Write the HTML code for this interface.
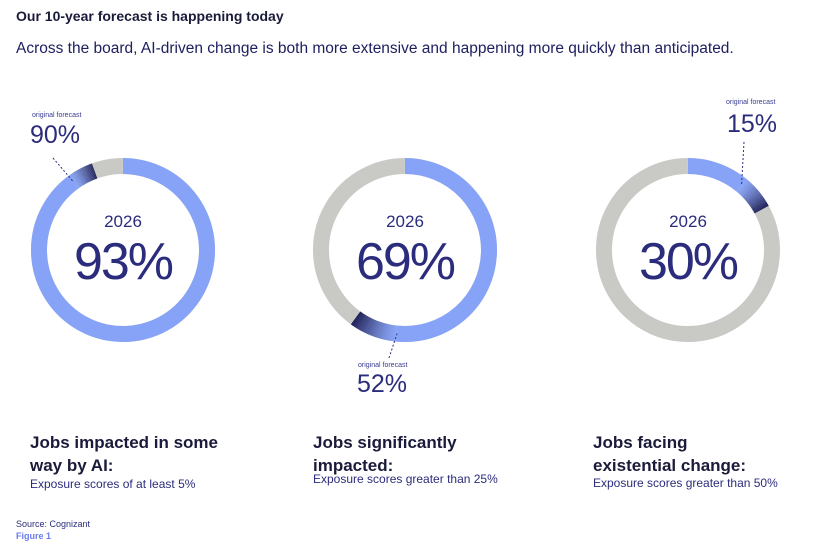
<!DOCTYPE html>
<html><head><meta charset="utf-8"><style>
body{margin:0;width:837px;height:553px;background:#fff;font-family:"Liberation Sans",sans-serif;color:#1f2060;position:relative;overflow:hidden}
.a{position:absolute;white-space:nowrap}
.h{font-size:17px;line-height:23px;color:#1a1a3a;font-weight:bold}
</style></head><body>
<div class="a" style="left:16px;top:8px;font-size:14px;font-weight:bold;color:#1a1a3a">Our 10-year forecast is happening today</div>
<div class="a" style="left:16px;top:40px;font-size:15.5px;color:#1f2060">Across the board, AI-driven change is both more extensive and happening more quickly than anticipated.</div>
<svg id="s" class="a" style="left:0;top:0" width="837" height="553"></svg>
<div class="a" style="left:32px;top:112px;font-size:7px;color:#3a3c90">original forecast</div>
<div class="a" style="left:30px;top:121px;font-size:25px;color:#2b2c7c">90%</div>
<div class="a" style="left:358px;top:362px;font-size:7px;color:#3a3c90">original forecast</div>
<div class="a" style="left:357px;top:370px;font-size:25px;color:#2b2c7c">52%</div>
<div class="a" style="left:726px;top:99px;font-size:7px;color:#3a3c90">original forecast</div>
<div class="a" style="left:727px;top:110px;font-size:25px;color:#2b2c7c">15%</div>
<div class="a h" style="left:30px;top:431px">Jobs impacted in some<br>way by AI:</div>
<div class="a" style="left:30px;top:477px;font-size:12px;color:#2b2c7c">Exposure scores of at least 5%</div>
<div class="a h" style="left:313px;top:431px">Jobs significantly<br>impacted:</div>
<div class="a" style="left:313px;top:472px;font-size:12px;color:#2b2c7c">Exposure scores greater than 25%</div>
<div class="a h" style="left:593px;top:431px">Jobs facing<br>existential change:</div>
<div class="a" style="left:593px;top:476px;font-size:12px;color:#2b2c7c">Exposure scores greater than 50%</div>
<div class="a" style="left:16px;top:519px;font-size:9px;color:#2b2c7c">Source: Cognizant</div>
<div class="a" style="left:16px;top:531px;font-size:9px;color:#6b7cf0;font-weight:bold">Figure 1</div>
<script>
var s=document.getElementById('s'),h='';
function pt(cx,cy,r,f){var a=f*2*Math.PI;return [cx+r*Math.sin(a),cy-r*Math.cos(a)];}
function arc(cx,cy,f0,f1,col){var R=92,w=16,r=R-w/2;var p0=pt(cx,cy,r,f0),p1=pt(cx,cy,r,f1);
h+='<path d="M'+p0[0]+' '+p0[1]+'A'+r+' '+r+' 0 '+((f1-f0)>0.5?1:0)+' 1 '+p1[0]+' '+p1[1]+'" fill="none" stroke="'+col+'" stroke-width="'+w+'"/>';}
function mix(t){var a=[134,163,248],b=[24,24,80];return 'rgb('+a.map((v,i)=>Math.round(v+(b[i]-v)*t)).join(',')+')';}
function donut(cx,cy,v,o,lab,lx,ly){arc(cx,cy,0,0.9999,'#c9c9c5');arc(cx,cy,0,o,'#86a3f8');var n=40;for(var i=0;i<n;i++){arc(cx,cy,o+(v-o)*i/n,o+(v-o)*(i+1.05)/n,mix(Math.pow(i/n,1.3)));}
var p=pt(cx,cy,92-8,o);h+='<line x1="'+lx+'" y1="'+ly+'" x2="'+p[0]+'" y2="'+p[1]+'" stroke="#2b2c7c" stroke-dasharray="2,2" stroke-width="1"/>';
h+='<text x="'+cx+'" y="'+(cy-23)+'" text-anchor="middle" font-size="17" fill="#2b2c7c" font-family="Liberation Sans">2026</text>';
h+='<text x="'+cx+'" y="'+(cy+29)+'" text-anchor="middle" font-size="52" fill="#2b2c7c" font-family="Liberation Sans" letter-spacing="-2">'+lab+'</text>';}
donut(123,250,0.945,0.90,'93%',53,158);
donut(405,250,0.60,0.515,'69%',389,358);
donut(688,250,0.17,0.11,'30%',744,142);
s.innerHTML=h;
</script>
</body></html>
